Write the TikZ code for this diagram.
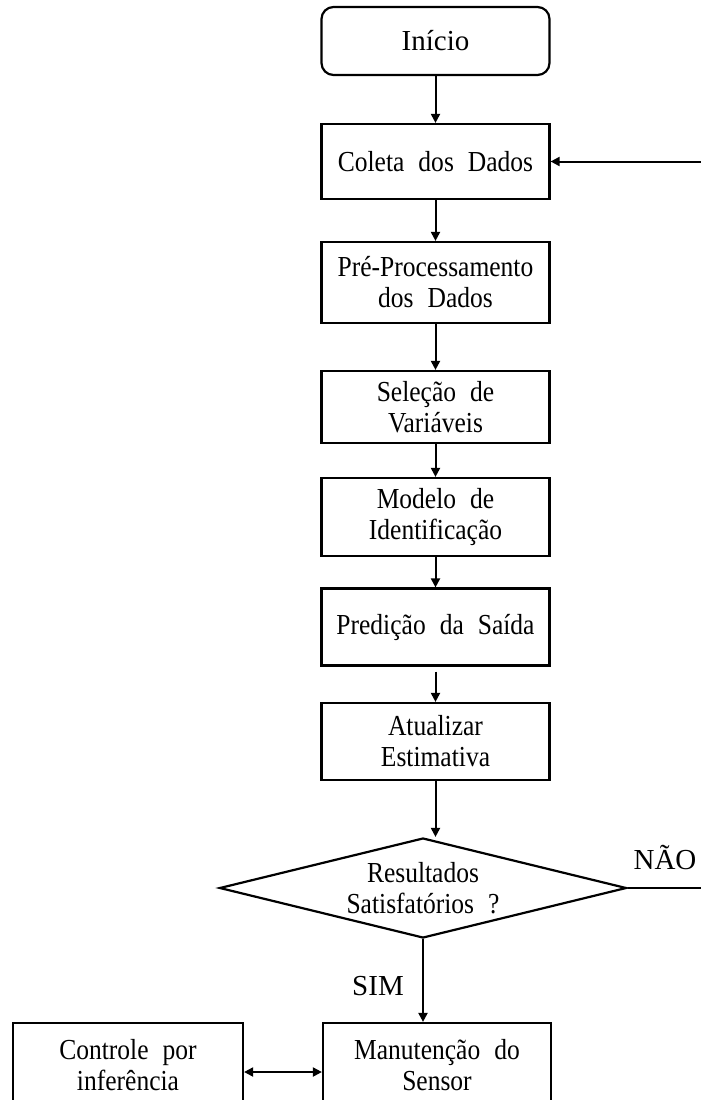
\documentclass[tikz,border=0pt]{standalone}
\usepackage{fontspec}
\setmainfont{Liberation Serif}
\newfontfamily\boxfont{Liberation Serif}[FakeStretch=0.88]
\usetikzlibrary{arrows.meta,shapes.geometric}

\tikzset{
  txt/.style={font={\boxfont\fontsize{29pt}{31pt}\selectfont\spaceskip=14pt\relax}, align=center},
  lbl/.style={font={\rmfamily\fontsize{29pt}{31pt}\selectfont}, align=center},
  procbox/.style={txt, draw, line width=2.2pt, rectangle, minimum width=228pt, inner sep=0pt},
  startbox/.style={procbox, lbl, rounded corners=12pt},
  decbox/.style={draw, line width=2.2pt, diamond, inner sep=0pt},
  flow/.style={line width=2pt, -{Triangle[length=9pt,width=9pt]}},
  both/.style={line width=2pt, {Triangle[length=9pt,width=9pt]}-{Triangle[length=9pt,width=9pt]}},
  plain/.style={line width=2pt},
}

\begin{document}
\begin{tikzpicture}[x=1pt, y=-1pt]
  \useasboundingbox (0,0) rectangle (701,1100);
  \clip (0,0) rectangle (701,1100);

  % main column of process steps
  \node[startbox, minimum height=68pt] (inicio) at (435.5,41) {Início};
  \node[procbox, minimum height=75pt] (coleta) at (435.5,161.5) {Coleta dos Dados};
  \node[procbox, minimum height=81pt] (pre) at (435.5,282.5) {Pré-Processamento\\dos Dados};
  \node[procbox, minimum height=72pt] (selecao) at (435.5,407) {Seleção de\\Variáveis};
  \node[procbox, minimum height=78pt] (modelo) at (435.5,517) {Modelo de\\Identificação};
  \node[procbox, minimum height=77pt] (predicao) at (435.5,627) {Predição da Saída};
  \node[procbox, minimum height=77pt] (atualizar) at (435.5,741.5) {Atualizar\\Estimativa};

  % decision
  \node[decbox, minimum width=407pt, minimum height=100pt] (dec) at (423,888) {};
  \node[txt] (dectext) at (dec.center) {Resultados\\Satisfatórios ?};

  % bottom row
  \node[procbox, minimum height=85pt] (manut) at (437,1065.5) {Manutenção do\\Sensor};
  \node[procbox, minimum width=230pt, minimum height=85pt] (controle) at (128,1065.5) {Controle por\\inferência};

  % branch labels
  \node[lbl] (nao) at (665,857) {NÃO};
  \node[lbl] (sim) at (378,986) {SIM};

  % loose ends of the feedback path at the right border
  \coordinate (fbin) at (701,161.5);
  \coordinate (fbout) at (701,888);

  % connectors
  \draw[flow] (inicio.south) -- (coleta.north);
  \draw[flow] (coleta.south) -- (pre.north);
  \draw[flow] (pre.south) -- (selecao.north);
  \draw[flow] (selecao.south) -- (modelo.north);
  \draw[flow] (modelo.south) -- (predicao.north);
  \draw[flow, shorten <=5pt] (predicao.south) -- (atualizar.north);
  \draw[flow] (atualizar.south) -- (atualizar.south |- dec.north);
  \draw[flow] (dec.south) -- (dec.south |- manut.north);
  \draw[plain] (dec.east) -- (fbout);
  \draw[flow] (fbin) -- (coleta.east);
  \draw[both] ([yshift=-6.5pt]controle.east) -- ([yshift=-6.5pt]manut.west);
\end{tikzpicture}
\end{document}
